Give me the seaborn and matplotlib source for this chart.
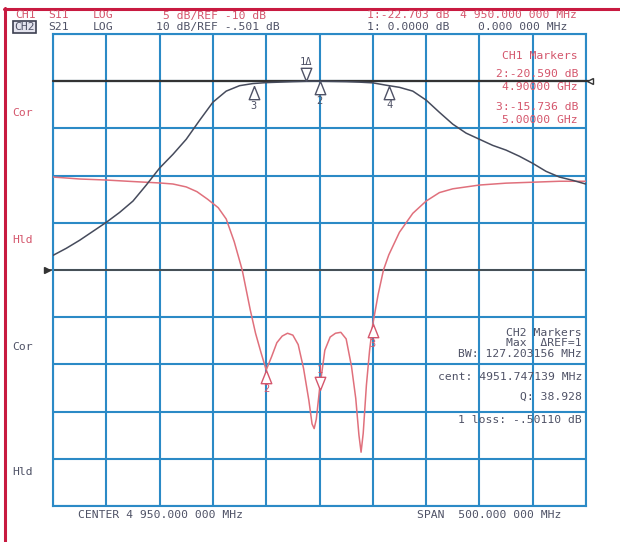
import numpy as np
import pandas as pd
import matplotlib
matplotlib.use('Agg')
import matplotlib.pyplot as plt
import matplotlib.transforms as mtransforms
from matplotlib.lines import Line2D
import seaborn as sns

# ---------------- data ----------------
s21_freq = [4700, 4712.5, 4725, 4737.5, 4750, 4762.5, 4775, 4787.5, 4800, 4812.5,
            4825, 4837.5, 4850, 4862.5, 4875, 4887.5, 4900, 4912.5, 4925, 4937.5,
            4950, 4962.5, 4975, 4987.5, 5000, 5012.5, 5025, 5037.5, 5050, 5062.5,
            5075, 5087.5, 5100, 5112.5, 5125, 5137.5, 5150, 5162.5, 5175, 5187.5, 5200]
s21_db = [-37.4, -35.9, -34.2, -32.3, -30.4, -28.3, -25.9, -22.5, -18.9, -16.0,
          -12.8, -8.8, -4.95, -2.6, -1.45, -1.0, -0.8, -0.7, -0.6, -0.52,
          -0.50, -0.55, -0.6, -0.7, -0.85, -1.35, -1.8, -2.6, -4.5, -7.1,
          -9.6, -11.5, -12.8, -14.1, -15.1, -16.4, -17.9, -19.6, -20.8, -21.5, -22.3]

s11_freq = [4700, 4725, 4750, 4775, 4800, 4812.5, 4825, 4835, 4845, 4855,
            4862.5, 4870, 4877.5, 4885, 4890, 4895, 4900, 4905, 4910, 4915,
            4920, 4925, 4930, 4935, 4940, 4943, 4945, 4947, 4950, 4955,
            4960, 4965, 4970, 4975, 4980, 4984, 4987, 4989, 4991, 4994,
            4997, 5000, 5005, 5010, 5015, 5025, 5037.5, 5050, 5062.5, 5075,
            5100, 5125, 5150, 5175, 5200]
s11_db = [-0.15, -0.36, -0.47, -0.63, -0.78, -0.89, -1.2, -1.7, -2.5, -3.4,
          -4.6, -7.0, -10.0, -14.2, -16.7, -18.7, -20.59, -19.2, -17.7, -17.0,
          -16.7, -16.9, -17.9, -20.4, -23.8, -26.3, -26.8, -25.8, -22.703, -18.5,
          -17.1, -16.7, -16.6, -17.3, -20.2, -23.6, -27.5, -29.3, -27.3, -22.2,
          -18.5, -15.736, -12.6, -10.0, -8.4, -6.0, -4.0, -2.7, -1.8, -1.4,
          -1.0, -0.8, -0.7, -0.6, -0.6]

s11_mk_freq = [4950, 4900, 5000]
s11_mk_db = [-22.703, -20.590, -15.736]
s11_mk_lbl = ['1', '2', '3']
s11_mk_up = [False, True, True]

s21_mk_freq = [4937.5, 4950, 4888.1, 5015.3]
s21_mk_db = [-0.501, -0.50, -1.6, -1.5]
s21_mk_lbl = ['1\u0394', '2', '3', '4']
s21_mk_up = [False, True, True, True]

header1 = ['CH1', 'S11', 'LOG', '5 dB/REF -10 dB', '1:-22.703 dB', '4 950.000 000 MHz']
header2 = ['CH2', 'S21', 'LOG', '10 dB/REF -.501 dB', '1: 0.0000 dB', '0.000 000 MHz']
left_labels = ['Cor', 'Hld', 'Cor', 'Hld']
ch1_marker_lines = ['CH1 Markers', '2:-20.590 dB', '4.90000 GHz', '3:-15.736 dB', '5.00000 GHz']
ch2_marker_lines = ['CH2 Markers', 'Max  \u0394REF=1', 'BW: 127.203156 MHz',
                    'cent: 4951.747139 MHz', 'Q: 38.928', '1 loss: -.50110 dB']
footer_left = 'CENTER 4 950.000 000 MHz'
footer_right = 'SPAN  500.000 000 MHz'

f_start, f_stop, f_div = 4700, 5200, 50
ch1_ref, ch1_scale = -10.0, 5.0
ch2_ref, ch2_scale = -0.501, 10.0

# ---------------- style ----------------
sns.set_style('white')
plt.rcParams['font.family'] = ['DejaVu Sans Mono', 'DejaVu Sans']

RED_TXT = '#d4566c'
GRAY_TXT = '#4f5266'
RED_TR = '#e0707c'
BLK_TR = '#464b5c'
GRID = '#2b8ac6'
BORDER = '#c81a40'

W, H = 620, 542
fig = plt.figure(figsize=(W / 100, H / 100), dpi=100)
fig.patch.set_facecolor('white')

def px(x, y):
    return x / W, 1 - y / H

ax = fig.add_axes([53 / W, 36 / H, 533 / W, 472 / H])
ax.set_xlim(f_start, f_stop)
ax.set_ylim(ch1_ref - 5 * ch1_scale, ch1_ref + 5 * ch1_scale)
ax.set_xticks(np.arange(f_start, f_stop + 1, f_div))
ax.set_yticks(np.arange(ch1_ref - 5 * ch1_scale, ch1_ref + 5 * ch1_scale + 0.1, ch1_scale))
ax.tick_params(length=0, labelbottom=False, labelleft=False)
ax.grid(True, color=GRID, lw=1.5)
ax.set_axisbelow(True)
for s in ax.spines.values():
    s.set_color(GRID)
    s.set_linewidth(1.5)

ax2 = ax.twinx()
ax2.set_ylim(ch2_ref - 9 * ch2_scale, ch2_ref + 1 * ch2_scale)
ax2.set_yticks([])
ax2.tick_params(length=0)
for s in ax2.spines.values():
    s.set_visible(False)

df11 = pd.DataFrame({'f': s11_freq, 'db': s11_db})
df21 = pd.DataFrame({'f': s21_freq, 'db': s21_db})

# reference lines
ax.axhline(ch1_ref, xmin=-0.008, xmax=1.0, color='#4a4a4a', lw=1.3, clip_on=False, zorder=2)
ax2.axhline(ch2_ref, xmin=0.0, xmax=1.006, color='#333333', lw=1.6, clip_on=False, zorder=2)
tr1 = mtransforms.blended_transform_factory(ax.transAxes, ax.transData)
ax.plot([-0.011], [ch1_ref], marker='>', ms=4, color='#333333', transform=tr1, clip_on=False)
tr2 = mtransforms.blended_transform_factory(ax2.transAxes, ax2.transData)
ax2.plot([1.008], [ch2_ref], marker='<', ms=4, mfc='white', mec='#333333', transform=tr2, clip_on=False)

sns.lineplot(data=df11, x='f', y='db', ax=ax, color=RED_TR, lw=1.1, zorder=3)
sns.lineplot(data=df21, x='f', y='db', ax=ax2, color=BLK_TR, lw=1.1, zorder=3)
ax.set_xlabel(''); ax.set_ylabel(''); ax2.set_xlabel(''); ax2.set_ylabel('')

up_tri = [(0, 0), (0.4, -1), (-0.4, -1), (0, 0)]
dn_tri = [(0, 0), (0.4, 1), (-0.4, 1), (0, 0)]

def draw_markers(a, freqs, dbs, lbls, ups, color):
    for f, d, l, u in zip(freqs, dbs, lbls, ups):
        a.plot([f], [d], marker=up_tri if u else dn_tri, ms=19, mfc='white',
               mec=color, mew=1.0, zorder=5, clip_on=False)
        a.annotate(l, (f, d), xytext=(0, -14 if u else 14), textcoords='offset points',
                   ha='center', va='center', fontsize=7.5, color=color, zorder=6)

draw_markers(ax, s11_mk_freq, s11_mk_db, s11_mk_lbl, s11_mk_up, RED_TXT)
draw_markers(ax2, s21_mk_freq, s21_mk_db, s21_mk_lbl, s21_mk_up, GRAY_TXT)

# ---------------- texts ----------------
FS = 8.2
h_x = [15, 48, 93, 163, 367, 460]
h2_x = [14, 48, 93, 156, 367, 478]
for t, x in zip(header1, h_x):
    fig.text(*px(x, 15.5), t, color=RED_TXT, fontsize=FS, va='center', ha='left')
for i, (t, x) in enumerate(zip(header2, h2_x)):
    kw = {}
    if i == 0:
        kw['bbox'] = dict(boxstyle='square,pad=0.12', fc='#e4e4ee', ec='#3c3f50', lw=1.2)
    fig.text(*px(x, 27), t, color=GRAY_TXT, fontsize=FS, va='center', ha='left', **kw)

for t, y, c in zip(left_labels, [113, 240, 347, 472], [RED_TXT, RED_TXT, GRAY_TXT, GRAY_TXT]):
    fig.text(*px(12, y), t, color=c, fontsize=FS, va='center', ha='left')

for t, y in zip(ch1_marker_lines, [56, 74, 87, 107, 120]):
    fig.text(*px(578, y), t, color=RED_TXT, fontsize=FS, va='center', ha='right')
for t, y in zip(ch2_marker_lines, [333, 343, 354, 377, 397, 420]):
    fig.text(*px(582, y), t, color=GRAY_TXT, fontsize=FS, va='center', ha='right')

fig.text(*px(78, 515), footer_left, color=GRAY_TXT, fontsize=FS, va='center', ha='left')
fig.text(*px(561, 515), footer_right, color=GRAY_TXT, fontsize=FS, va='center', ha='right')

# page border
fig.add_artist(Line2D([4 / W, 1.0], [1 - 9 / H, 1 - 9 / H], color=BORDER, lw=2.2, transform=fig.transFigure))
fig.add_artist(Line2D([5 / W, 5 / W], [0, 1 - 8 / H], color=BORDER, lw=2.2, transform=fig.transFigure))

fig.savefig('out.png', dpi=100, facecolor='white')
